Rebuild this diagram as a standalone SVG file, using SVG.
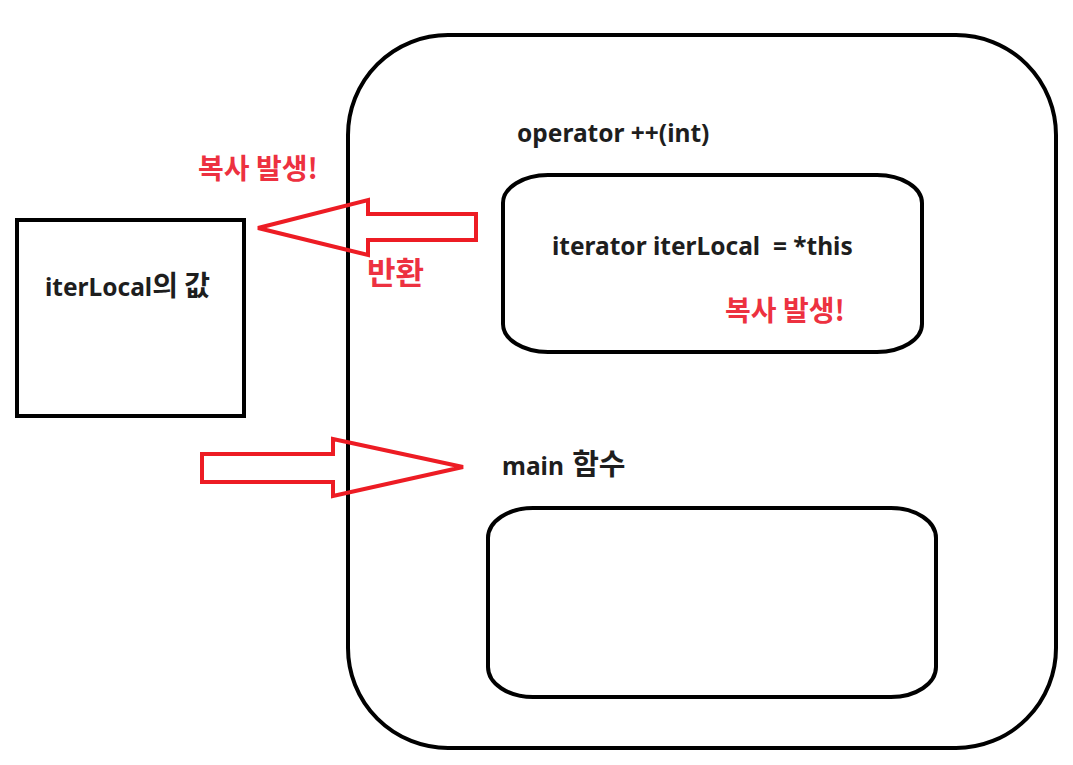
<svg xmlns="http://www.w3.org/2000/svg" width="1073" height="765" viewBox="0 0 1073 765">
<style>
.box{fill:none;stroke:#000;stroke-width:4}
.arrow{fill:none;stroke:#ed1c24;stroke-width:4;stroke-linejoin:miter}
.t{font-family:"Noto Sans","Noto Sans CJK KR",sans-serif;font-weight:bold;fill:#1e1e1e;font-size:24.5px;white-space:pre}
.k{font-family:"Noto Sans CJK KR",sans-serif;font-size:28px}
.r{font-family:"Noto Sans CJK KR",sans-serif;font-weight:bold;fill:#ed3140;font-size:28px}
</style>
<rect width="1073" height="765" fill="#fff"/>
<g id="outer">
<rect class="box" x="348" y="35" width="708" height="713" rx="100" ry="100"/>
</g>
<g id="operator-box">
<text class="t" x="517" y="142">operator ++(int)</text>
<rect class="box" x="503" y="175" width="419" height="177" rx="45" ry="28"/>
<text class="t" x="552" y="255" xml:space="preserve">iterator iterLocal  = *this</text>
<text class="r" x="725" y="321">복사 발생!</text>
</g>
<g id="main-box">
<text class="t" x="502" y="475">main <tspan class="k" dx="2" style="font-size:29px">함수</tspan></text>
<rect class="box" x="488" y="508" width="448" height="189" rx="45" ry="30"/>
</g>
<g id="value-box">
<rect class="box" x="17" y="220" width="227" height="196"/>
<text class="t" x="45" y="296">iterLocal<tspan class="k">의 값</tspan></text>
</g>
<g id="connectors">
<polygon class="arrow" points="258,228 368,200 368,214 476,214 476,240 368,240 368,255"/>
<polygon class="arrow" points="202,454 333,454 333,439 463,467 333,496 333,482 202,482"/>
<text class="r" x="198" y="179">복사 발생!</text>
<text class="r" x="367" y="284" style="font-size:31px">반환</text>
</g>
</svg>
